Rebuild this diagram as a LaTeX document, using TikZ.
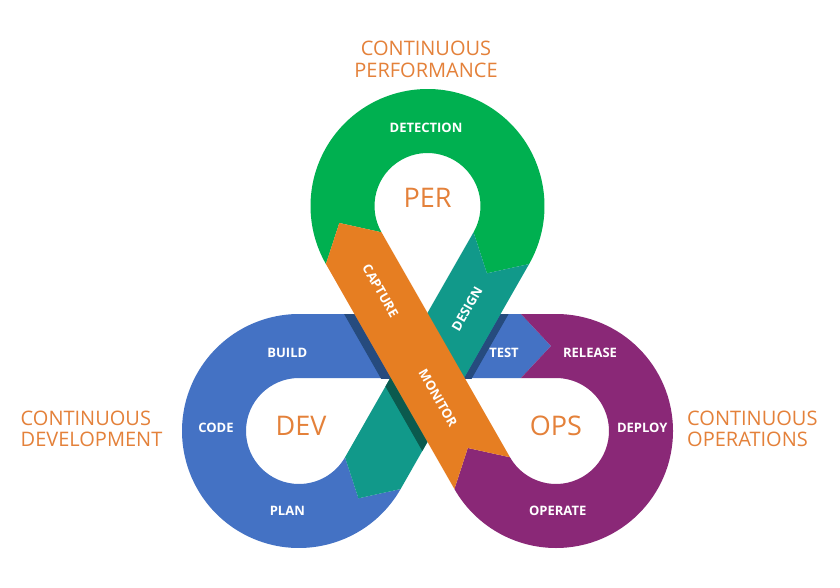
\documentclass[tikz,border=0pt]{standalone}
\usepackage{fontspec}
\setmainfont{Open Sans}
\usetikzlibrary{calc}
\definecolor{cblue}{HTML}{4472C4}
\definecolor{cgreen}{HTML}{00B050}
\definecolor{cpurple}{HTML}{8A2877}
\definecolor{corange}{HTML}{E67E22}
\definecolor{cteal}{HTML}{11998A}
\definecolor{dblue}{HTML}{264B7E}
\definecolor{dteal}{HTML}{0B5A4E}
\definecolor{ctext}{HTML}{E4813A}
\begin{document}
\begin{tikzpicture}[x=1pt,y=-1pt,
  lbl/.style={text=white,font=\bfseries\fontsize{13}{13}\selectfont,inner sep=0pt},
  big/.style={text=ctext,font=\fontsize{27}{27}\selectfont,inner sep=0pt},
  outer/.style={text=ctext,font=\fontsize{20}{22}\selectfont,inner sep=0pt},
  hole/.style={fill=white,draw=none}]
\useasboundingbox (0,0) rectangle (840,588);
\fill[white] (0,0) rectangle (840,588);
% centres
\coordinate (D) at (299,431);
\coordinate (O) at (556,431);
\coordinate (P) at (427.5,206);
\def\aT{29.73}\def\uT{119.73}\def\aM{150.27}\def\uM{240.27}
% teal band ends
\coordinate (TPi) at ($(P)+(\aT:53)$);
\coordinate (TPo) at ($(P)+(\aT:117)$);
\coordinate (TPt) at ($(P)+(\aT:85)+(\uT:29)$);
\coordinate (TDi) at ($(D)+(\aT:53)$);
\coordinate (TDo) at ($(D)+(\aT:117)$);
\coordinate (TDt) at ($(D)+(\aT:85)+(\uT:29)$);
% orange band ends
\coordinate (MPi) at ($(P)+(\aM:53)$);
\coordinate (MPo) at ($(P)+(\aM:117)$);
\coordinate (MPt) at ($(P)+(\aM:85)+(\uM:29)$);
\coordinate (MOi) at ($(O)+(\aM:53)$);
\coordinate (MOo) at ($(O)+(\aM:117)$);
\coordinate (MOt) at ($(O)+(\aM:85)+(\uM:29)$);
% blue -> purple chevron
\coordinate (Bt) at (521,314);
\coordinate (Bb) at (521,378);
\coordinate (Bx) at (551,346);
% holes
\path[hole] (P) circle[radius=53];
\path[hole] (P) -- (MPi) -- ($(P)+(90:106.9)$) -- (TPi) -- cycle;
\path[hole] (D) circle[radius=53];
\path[hole] (D) -- (299,378) -- (390.3,378) -- (TDi) -- cycle;
\path[hole] (O) circle[radius=53];
\path[hole] (O) -- (556,378) -- (464.7,378) -- (MOi) -- cycle;
% blue loop
\fill[cblue] (TDi) -- (TDt) -- (TDo) arc[start angle=\aT, end angle=270, radius=117]
  -- (Bt) -- (Bx) -- (Bb) -- (299,378) arc[start angle=270, end angle=\aT, radius=53] -- cycle;
% purple loop
\fill[cpurple] (Bt) -- (556,314) arc[start angle=270, end angle=510.27, radius=117]
  -- (MOt) -- (MOi) arc[start angle=\aM, end angle=-90, radius=53] -- (Bb) -- (Bx) -- cycle;
% green loop
\fill[cgreen] (MPo) -- (MPt) -- (MPi) arc[start angle=\aM, end angle=389.73, radius=53]
  -- (TPt) -- (TPo) arc[start angle=389.73, end angle=\aM, radius=117] -- cycle;
% shadows on blue band
\begin{scope}
  \clip (299,314) rectangle (521,378);
  \fill[dblue] (TPo) -- (TDo) -- ($(TDo)+(\aT:7)$) -- ($(TPo)+(\aT:7)$) -- cycle;
  \fill[dblue] (MPo) -- (MOo) -- ($(MOo)+(\aM:9)$) -- ($(MPo)+(\aM:9)$) -- cycle;
\end{scope}
% teal band
\fill[cteal] (TPi) -- (TPt) -- (TPo) -- (TDo) -- (TDt) -- (TDi) -- cycle;
% shadow of orange on teal
\begin{scope}
  \clip (TPi) -- (TPt) -- (TPo) -- (TDo) -- (TDt) -- (TDi) -- cycle;
  \fill[dteal] (MPo) -- (MOo) -- ($(MOo)+(\aM:9)$) -- ($(MPo)+(\aM:9)$) -- cycle;
\end{scope}
% orange band
\fill[corange] (MOo) -- (MOt) -- (MOi) -- (MPi) -- (MPt) -- (MPo) -- cycle;
% labels
\node[lbl] (detection) at (426,127.7) {DETECTION};
\node[lbl] (build) at (287.3,352.7) {BUILD};
\node[lbl] (code) at (216,427.7) {CODE};
\node[lbl] (plan) at (287.3,510.7) {PLAN};
\node[lbl] (test) at (504,352.7) {TEST};
\node[lbl] (release) at (590,352.7) {RELEASE};
\node[lbl] (deploy) at (642.3,427.7) {DEPLOY};
\node[lbl] (operate) at (557.7,510.7) {OPERATE};
\node[lbl,rotate=-60.27] (capture) at (380.5,291) {CAPTURE};
\node[lbl,rotate=-60.27] (monitor) at (438,398) {MONITOR};
\node[lbl,rotate=60.27] (design) at (467,309) {DESIGN};
\node[big] (per) at (427.5,197.8) {PER};
\node[big] (dev) at (301,426) {DEV};
\node[big] (ops) at (556,426) {OPS};
\node[outer,anchor=base] (cp1) at (426,56) {CONTINUOUS};
\node[outer,anchor=base] (cp2) at (426,77.7) {PERFORMANCE};
\node[outer,anchor=base west] (cd1) at (20.5,425) {CONTINUOUS};
\node[outer,anchor=base west] (cd2) at (20.5,446.7) {DEVELOPMENT};
\node[outer,anchor=base west] (co1) at (687,425) {CONTINUOUS};
\node[outer,anchor=base west] (co2) at (687,446.7) {OPERATIONS};
\end{tikzpicture}
\end{document}
